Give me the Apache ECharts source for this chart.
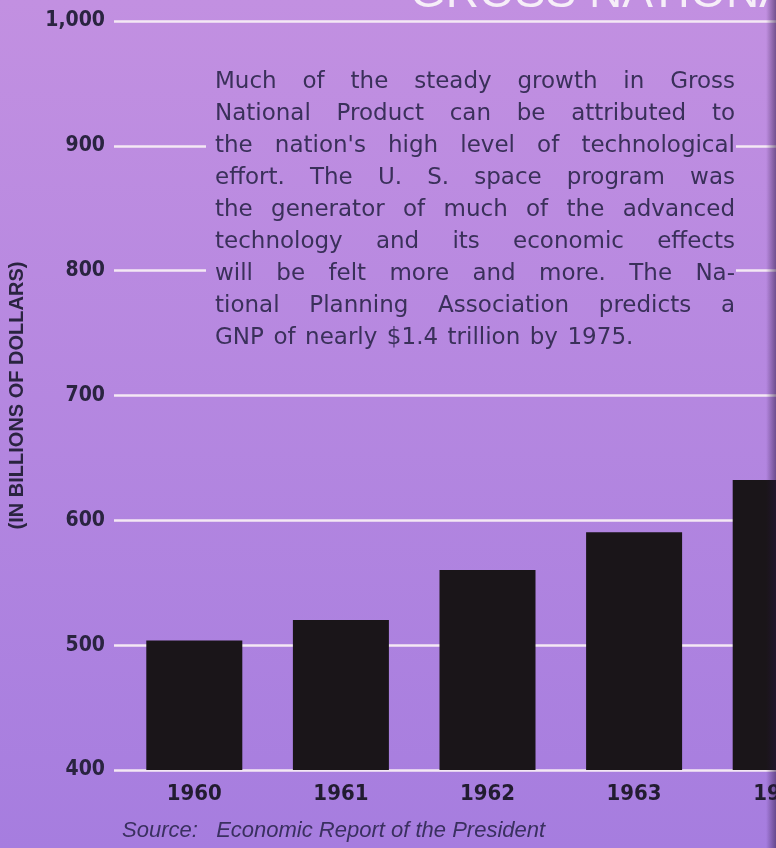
<!DOCTYPE html>
<html>
<head>
<meta charset="utf-8">
<script src="https://cdn.jsdelivr.net/npm/echarts@6/dist/echarts.min.js"></script>
<style>
  html, body { margin: 0; padding: 0; }
  #main { width: 776px; height: 848px; }
</style>
</head>
<body>
<div id="main"></div>
<script>
var years = ['1960', '1961', '1962', '1963', '1964'];
var gnp = [503.7, 520.1, 560.3, 590.5, 632.4];
var yTicks = [400, 1000, 100];
var noteLines = [
  'Much of the steady growth in Gross',
  'National Product can be attributed to',
  "the nation's high level of technological",
  'effort. The U. S. space program was',
  'the generator of much of the advanced',
  'technology and its economic effects',
  'will be felt more and more. The Na-',
  'tional Planning Association predicts a',
  'GNP of nearly $1.4 trillion by 1975.'
];

(function () {
    var myChart = echarts.init(document.getElementById('main'));
    var bg = {
        type: 'linear', x: 0, y: 0, x2: 0, y2: 848, global: true,
        colorStops: [{ offset: 0, color: '#c290e1' }, { offset: 1, color: '#a67ddf' }]
    };
    var condensed = '"DejaVu Sans Condensed", "Liberation Sans Narrow", sans-serif';

    // justified paragraph, one text per word
    var noteFont = '23px "DejaVu Sans", sans-serif';
    var ctx = document.createElement('canvas').getContext('2d');
    ctx.font = noteFont;
    var noteLeft = 215, noteWidth = 520, noteTop = 82, lineGap = 32;
    var words = [];
    noteLines.forEach(function (line, i) {
        var parts = line.split(' ');
        var y = noteTop + i * lineGap;
        var last = i === noteLines.length - 1;
        var total = 0;
        parts.forEach(function (p) { total += ctx.measureText(p).width; });
        var gap = last ? ctx.measureText(' ').width * 1.3 : (noteWidth - total) / (parts.length - 1);
        var x = noteLeft;
        parts.forEach(function (p) {
            words.push({
                type: 'text', x: x, y: y, z: 6,
                style: { text: p, font: noteFont, fill: '#3a305a', textVerticalAlign: 'middle' }
            });
            x += ctx.measureText(p).width + gap;
        });
    });

    var option = {
        backgroundColor: bg,
        animation: false,
        grid: { left: 121, top: 21, width: 733, height: 749, outerBoundsMode: 'none' },
        xAxis: {
            type: 'category',
            data: years,
            axisLine: { show: false },
            axisTick: { show: false },
            axisLabel: {
                margin: 13,
                color: '#221c30',
                fontSize: 22,
                fontWeight: 'bold',
                fontFamily: condensed
            }
        },
        yAxis: {
            type: 'value',
            min: yTicks[0],
            max: yTicks[1],
            interval: yTicks[2],
            name: '(IN BILLIONS OF DOLLARS)',
            nameLocation: 'middle',
            nameRotate: 90,
            nameGap: 94,
            nameTextStyle: {
                color: '#2a2440',
                fontSize: 20,
                fontWeight: 'bold',
                fontFamily: '"Liberation Sans", Arial, sans-serif'
            },
            axisLine: { show: false },
            axisTick: { show: true, length: 7, lineStyle: { color: '#f4e8f4', width: 2.5 } },
            axisLabel: {
                margin: 16,
                color: '#2a2440',
                fontSize: 21,
                fontWeight: 'bold',
                fontFamily: condensed,
                formatter: function (v) { return v >= 1000 ? echarts.format.addCommas(v) : v; }
            },
            splitLine: { show: true, lineStyle: { color: '#f4e8f4', width: 2.5 } }
        },
        series: [{
            type: 'bar',
            data: gnp,
            barWidth: 96,
            itemStyle: { color: '#1a1519' }
        }],
        graphic: [
            // hide grid lines behind the paragraph
            { type: 'rect', z: 5, shape: { x: 206, y: 58, width: 530, height: 298 }, style: { fill: bg } },
            { type: 'text', x: 410, y: 17, z: 6,
              style: { text: 'GROSS NATIONAL PRODUCT', font: '46px "Liberation Sans", Arial, sans-serif',
                       fill: '#f6eef8', textVerticalAlign: 'bottom' } },
            { type: 'text', x: 122, y: 831, z: 6,
              style: { text: 'Source:   Economic Report of the President',
                       font: 'italic 22px "Liberation Sans", Arial, sans-serif',
                       fill: '#3a3060', textVerticalAlign: 'middle' } },
            { type: 'rect', z: 7, shape: { x: 766, y: 0, width: 10, height: 848 },
              style: { fill: { type: 'linear', x: 0, y: 0, x2: 1, y2: 0,
                       colorStops: [{ offset: 0, color: 'rgba(40,20,60,0)' }, { offset: 1, color: 'rgba(40,20,60,0.5)' }] } } }
        ].concat(words)
    };
    myChart.setOption(option);
    window.addEventListener('resize', function () {
        myChart.resize();
    });
})();
</script>
</body>
</html>
